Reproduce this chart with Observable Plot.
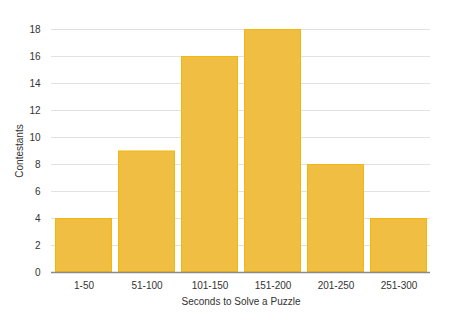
<!DOCTYPE html>
<html>
<head>
<meta charset="utf-8">
<script src="https://cdn.jsdelivr.net/npm/d3@7"></script>
<script src="https://cdn.jsdelivr.net/npm/@observablehq/plot@0.6"></script>
<style>
  html, body { margin: 0; padding: 0; background: #fff; }
  #chart svg { display: block; }
</style>
</head>
<body>
<div id="chart"></div>
<script>
const categories = ["1-50", "51-100", "101-150", "151-200", "201-250", "251-300"];
const contestants = [4, 9, 16, 18, 8, 4];
const yTicks = [0, 2, 4, 6, 8, 10, 12, 14, 16, 18];

const data = categories.map((c, i) => ({category: c, value: contestants[i]}));

const chart = Plot.plot({
  width: 450,
  height: 320,
  marginLeft: 51,
  marginRight: 20,
  marginTop: 29,
  marginBottom: 48,
  style: {fontFamily: "Liberation Sans, Arial, sans-serif", fontSize: "10px", color: "#333", background: "#fff"},
  x: {domain: categories, paddingInner: 0.1, paddingOuter: 0.05, label: "Seconds to Solve a Puzzle", labelAnchor: "center", labelArrow: "none", labelOffset: 32, tickSize: 0, tickPadding: 9},
  y: {domain: [0, 18], ticks: yTicks, label: "Contestants", labelAnchor: "center", labelArrow: "none", labelOffset: 36, tickSize: 0, tickPadding: 11},
  marks: [
    Plot.gridY(yTicks, {stroke: "#e2e2e2", strokeOpacity: 1}),
    Plot.barY(data, {x: "category", y: "value", fill: "#efbe43", stroke: "#f3b70c", strokeWidth: 1, inset: 0.5}),
    Plot.ruleY([0], {stroke: "#8a8a8a", strokeWidth: 1.5})
  ]
});
document.getElementById("chart").appendChild(chart);
</script>
</body>
</html>
